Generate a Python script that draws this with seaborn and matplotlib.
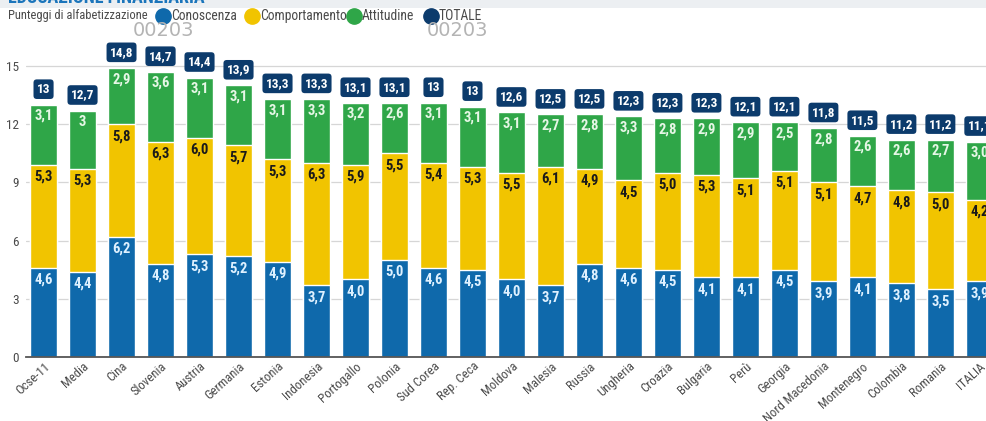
import numpy as np
import pandas as pd
import matplotlib.pyplot as plt
import seaborn as sns
from matplotlib.lines import Line2D
from matplotlib.patches import Rectangle

# =====================================
# DATA
# =====================================

paesi = [
    'Ocse-11', 'Media', 'Cina', 'Slovenia', 'Austria', 'Germania',
    'Estonia', 'Indonesia', 'Portogallo', 'Polonia', 'Sud Corea',
    'Rep. Ceca', 'Moldova', 'Malesia', 'Russia', 'Ungheria', 'Croazia',
    'Bulgaria', 'Perù', 'Georgia', 'Nord Macedonia', 'Montenegro',
    'Colombia', 'Romania', 'ITALIA'
]

conoscenza = ['4,6', '4,4', '6,2', '4,8', '5,3', '5,2', '4,9', '3,7', '4,0',
              '5,0', '4,6', '4,5', '4,0', '3,7', '4,8', '4,6', '4,5', '4,1',
              '4,1', '4,5', '3,9', '4,1', '3,8', '3,5', '3,9']

comportamento = ['5,3', '5,3', '5,8', '6,3', '6,0', '5,7', '5,3', '6,3', '5,9',
                 '5,5', '5,4', '5,3', '5,5', '6,1', '4,9', '4,5', '5,0', '5,3',
                 '5,1', '5,1', '5,1', '4,7', '4,8', '5,0', '4,2']

attitudine = ['3,1', '3', '2,9', '3,6', '3,1', '3,1', '3,1', '3,3', '3,2',
              '2,6', '3,1', '3,1', '3,1', '2,7', '2,8', '3,3', '2,8', '2,9',
              '2,9', '2,5', '2,8', '2,6', '2,6', '2,7', '3,0']

totale = ['13', '12,7', '14,8', '14,7', '14,4', '13,9', '13,3', '13,3', '13,1',
          '13,1', '13', '13', '12,6', '12,5', '12,5', '12,3', '12,3', '12,3',
          '12,1', '12,1', '11,8', '11,5', '11,2', '11,2', '11,1']

legenda = ['Conoscenza', 'Comportamento', 'Attitudine', 'TOTALE']


def num(lista):
    return np.array([float(s.replace(',', '.')) for s in lista])


df = pd.DataFrame({
    'Paese': paesi,
    'Conoscenza': num(conoscenza),
    'Comportamento': num(comportamento),
    'Attitudine': num(attitudine),
})
df['c1'] = df['Conoscenza']
df['c2'] = df['c1'] + df['Comportamento']
df['c3'] = df['c2'] + df['Attitudine']

# =====================================
# STILE
# =====================================

BLU = '#0f69ab'
GIALLO = '#f1c400'
VERDE = '#2fa648'
NAVY = '#0c3b6c'
GRIGIO = '#4a4a4a'

sns.set_style('white')
plt.rcParams['font.family'] = ['Roboto Condensed', 'Roboto', 'DejaVu Sans']

fig = plt.figure(figsize=(9.86, 4.21), dpi=100)
ax = fig.add_axes([26 / 986, 64 / 421, 960 / 986, 327 / 421])

# =====================================
# BARRE IMPILATE
# =====================================

for col, colore in [('c3', VERDE), ('c2', GIALLO), ('c1', BLU)]:
    sns.barplot(
        data=df, x='Paese', y=col,
        color=colore, saturation=1, width=0.69,
        ax=ax, zorder=3
    )

# etichette
for i in range(len(paesi)):
    r = df.iloc[i]
    ax.text(i, r['c1'] - 0.62, conoscenza[i], ha='center', va='center',
            color='#dff1ff', fontsize=10.5, fontweight='bold', zorder=4)
    ax.text(i, r['c2'] - 0.62, comportamento[i], ha='center', va='center',
            color='#1a1a1a', fontsize=10.5, fontweight='bold', zorder=4)
    ax.text(i, r['c3'] - 0.58, attitudine[i], ha='center', va='center',
            color='#e6f7e6', fontsize=10.5, fontweight='bold', zorder=4)
    ax.text(i, r['c3'] + 0.8, totale[i], ha='center', va='center',
            color='white', fontsize=9.5, fontweight='bold', zorder=5,
            bbox=dict(boxstyle='round,pad=0.25,rounding_size=0.25',
                      fc=NAVY, ec='none'))

# =====================================
# ASSI
# =====================================

ax.set_xlim(-0.45, 24.17)
ax.set_ylim(0, 16.85)
ax.set_yticks([0, 3, 6, 9, 12, 15])
ax.set_xlabel('')
ax.set_ylabel('')
ax.grid(axis='y', color='#d6d6d6', lw=0.9, zorder=0)
ax.grid(axis='x', visible=False)
sns.despine(ax=ax, left=True, top=True, right=True)
ax.spines['bottom'].set_color('#555555')
ax.spines['bottom'].set_linewidth(1.3)
ax.spines['bottom'].set_zorder(6)

ax.tick_params(axis='y', length=0, pad=5, labelsize=9.5, labelcolor=GRIGIO)
ax.tick_params(axis='x', length=0, pad=2, labelsize=9.2, labelcolor=GRIGIO)
plt.setp(ax.get_xticklabels(), rotation=42, ha='right',
         rotation_mode='anchor')

# =====================================
# TESTATA E LEGENDA
# =====================================

fig.patches.append(Rectangle((0, 1 - 8 / 421), 1, 8 / 421,
                             transform=fig.transFigure,
                             fc='#eceff2', ec='none'))
fig.text(8 / 986, 1 - 3 / 421, 'EDUCAZIONE FINANZIARIA', color='#1b75bb',
         fontsize=13, fontweight='bold', va='baseline', ha='left')

y_leg = 1 - 16 / 421
fig.text(8 / 986, y_leg, 'Punteggi di alfabetizzazione',
         fontsize=9, color=GRIGIO, va='center', ha='left')

for xm, colore, testo in zip([163, 252, 354, 431],
                             [BLU, GIALLO, VERDE, NAVY], legenda):
    fig.add_artist(Line2D([xm / 986], [y_leg], marker='o', ms=11, ls='',
                          color=colore, transform=fig.transFigure))
    fig.text((xm + 8) / 986, y_leg, testo, fontsize=9.8, color=GRIGIO,
             va='center', ha='left')

for xc in [163, 457]:
    fig.text(xc / 986, 1 - 31 / 421, '00203', fontsize=14, color='#b4b4b4',
             ha='center', va='center', family='DejaVu Sans')

fig.savefig('out.png', dpi=100)
